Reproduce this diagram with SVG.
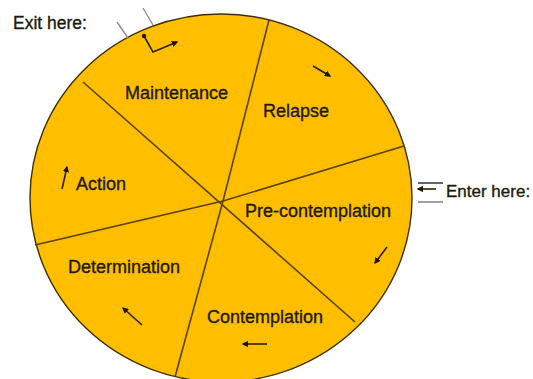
<svg xmlns="http://www.w3.org/2000/svg" width="533" height="379" viewBox="0 0 533 379">
  <style>
    .lbl { font-family: "Liberation Sans", Arial, sans-serif; font-size: 18px; fill: #1e1a10; stroke: #1e1a10; stroke-width: 0.35; }
    .div { stroke: #5a4200; stroke-width: 1.6; fill: none; }
    .arr { stroke: #2a2000; stroke-width: 1.6; fill: none; marker-end: url(#ah); }
    .gray { stroke: #8a8f99; stroke-width: 1.4; }
  </style>
  <defs>
    <marker id="ah" viewBox="0 0 10 10" refX="8" refY="5" markerWidth="4" markerHeight="4" orient="auto">
      <path d="M0,0 L10,5 L0,10 z" fill="#1e1600"/>
    </marker>
  </defs>
  <rect width="533" height="379" fill="#ffffff"/>

  <g id="wheel">
    <ellipse cx="221" cy="198" rx="191" ry="184" fill="#FFBE00" stroke="#3d3000" stroke-width="1.4"/>
    <line class="div" x1="269" y1="20" x2="223" y2="201"/>
    <line class="div" x1="223" y1="201" x2="175" y2="377"/>
    <line class="div" x1="83" y1="82" x2="355" y2="322"/>
    <line class="div" x1="35" y1="245" x2="223" y2="201"/>
    <line class="div" x1="223" y1="201" x2="404" y2="146"/>
  </g>

  <g id="maintenance"><text class="lbl" x="125" y="99">Maintenance</text></g>
  <g id="relapse"><text class="lbl" x="263" y="117">Relapse</text></g>
  <g id="action"><text class="lbl" x="76" y="190">Action</text></g>
  <g id="precontemplation"><text class="lbl" x="245" y="217">Pre-contemplation</text></g>
  <g id="determination"><text class="lbl" x="68" y="273">Determination</text></g>
  <g id="contemplation"><text class="lbl" x="207" y="323">Contemplation</text></g>

  <g id="exit">
    <text class="lbl" x="13" y="29" style="font-size:17.5px">Exit here:</text>
    <line class="gray" x1="117" y1="22" x2="128" y2="38"/>
    <line class="gray" x1="143" y1="8" x2="153" y2="25"/>
  </g>
  <g id="enter">
    <text class="lbl" x="446" y="197" style="font-size:17px">Enter here:</text>
    <line x1="418" y1="183" x2="443" y2="183" stroke="#222" stroke-width="1.4"/>
    <line x1="418" y1="202" x2="443" y2="202" stroke="#777" stroke-width="1.4"/>
  </g>

  <g id="connectors">
    <circle cx="144" cy="36" r="2.2" fill="#1e1600"/>
    <polyline class="arr" points="144,36 153,52 177,42"/>
    <line class="arr" x1="313" y1="66" x2="330" y2="76"/>
    <line class="arr" x1="387" y1="247" x2="375" y2="263"/>
    <line class="arr" x1="267" y1="344" x2="243" y2="344"/>
    <line class="arr" x1="142" y1="325" x2="123" y2="308"/>
    <line class="arr" x1="62" y1="189" x2="67" y2="167"/>
    <line class="arr" x1="436" y1="189" x2="418" y2="189"/>
  </g>
</svg>
